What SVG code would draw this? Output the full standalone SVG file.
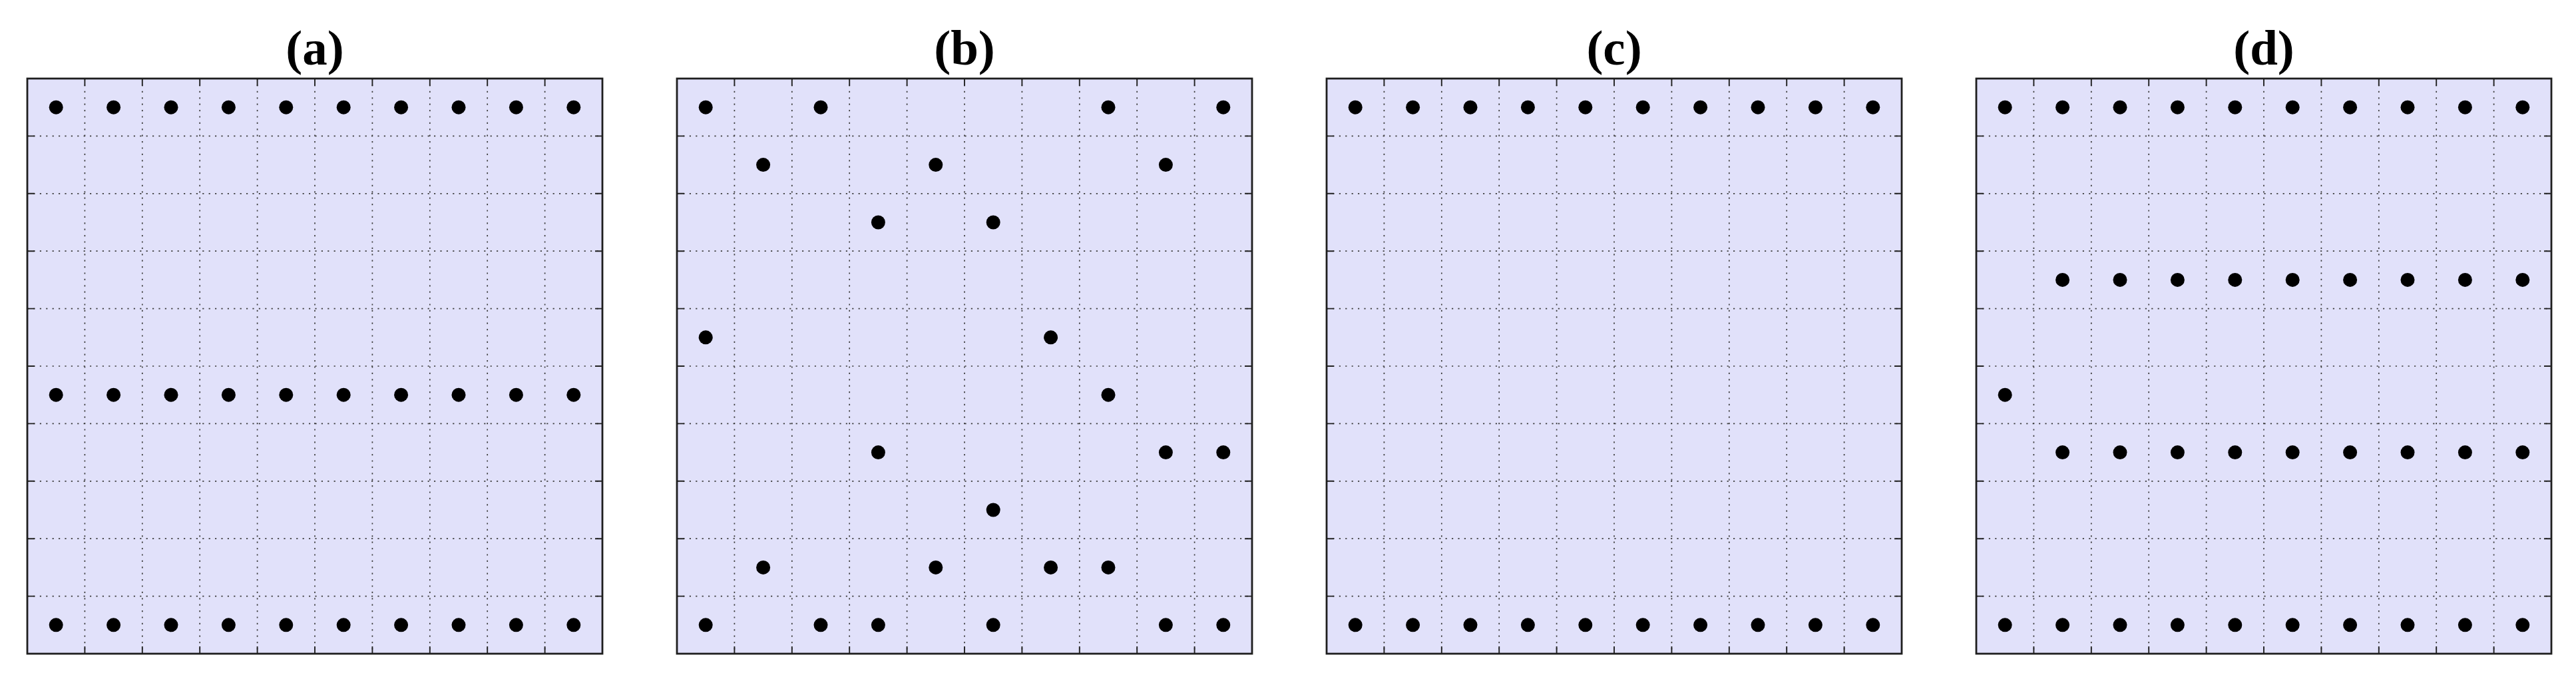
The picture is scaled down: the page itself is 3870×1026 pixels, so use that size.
<svg xmlns="http://www.w3.org/2000/svg" xmlns:xlink="http://www.w3.org/1999/xlink" width="3870" height="1026" viewBox="0 0 3870 1026">
<style>
.bg{fill:#E1E1FA;stroke:none}
.grid{fill:none;stroke:#3c3c3c;stroke-width:1.7;stroke-dasharray:2.2 7.2}
.tick{fill:none;stroke:#222;stroke-width:1.9}
.border{fill:none;stroke:#1e1e1e;stroke-width:2.8}
.dot{fill:#000}
.lbl{font-family:"Liberation Serif","Times New Roman",serif;font-weight:bold;font-size:75px;fill:#000;text-anchor:middle}
</style>
<defs>
<g id="frame">
<rect class="bg" x="0" y="0" width="864" height="864"/>
<path class="grid" d="M86.4 0V864M172.8 0V864M259.2 0V864M345.6 0V864M432 0V864M518.4 0V864M604.8 0V864M691.2 0V864M777.6 0V864M0 86.4H864M0 172.8H864M0 259.2H864M0 345.6H864M0 432H864M0 518.4H864M0 604.8H864M0 691.2H864M0 777.6H864"/>
<path class="tick" d="M86.4 0v11M172.8 0v11M259.2 0v11M345.6 0v11M432 0v11M518.4 0v11M604.8 0v11M691.2 0v11M777.6 0v11M86.4 864v-11M172.8 864v-11M259.2 864v-11M345.6 864v-11M432 864v-11M518.4 864v-11M604.8 864v-11M691.2 864v-11M777.6 864v-11M0 86.4h11M0 172.8h11M0 259.2h11M0 345.6h11M0 432h11M0 518.4h11M0 604.8h11M0 691.2h11M0 777.6h11M864 86.4h-11M864 172.8h-11M864 259.2h-11M864 345.6h-11M864 432h-11M864 518.4h-11M864 604.8h-11M864 691.2h-11M864 777.6h-11"/>
<rect class="border" x="0" y="0" width="864" height="864"/>
</g>
<g id="row">
<circle class="dot" cx="43.2" cy="0" r="10.5"/><circle class="dot" cx="129.6" cy="0" r="10.5"/><circle class="dot" cx="216" cy="0" r="10.5"/><circle class="dot" cx="302.4" cy="0" r="10.5"/><circle class="dot" cx="388.8" cy="0" r="10.5"/><circle class="dot" cx="475.2" cy="0" r="10.5"/><circle class="dot" cx="561.6" cy="0" r="10.5"/><circle class="dot" cx="648" cy="0" r="10.5"/><circle class="dot" cx="734.4" cy="0" r="10.5"/><circle class="dot" cx="820.8" cy="0" r="10.5"/>
</g>
<g id="row9">
<circle class="dot" cx="129.6" cy="0" r="10.5"/><circle class="dot" cx="216" cy="0" r="10.5"/><circle class="dot" cx="302.4" cy="0" r="10.5"/><circle class="dot" cx="388.8" cy="0" r="10.5"/><circle class="dot" cx="475.2" cy="0" r="10.5"/><circle class="dot" cx="561.6" cy="0" r="10.5"/><circle class="dot" cx="648" cy="0" r="10.5"/><circle class="dot" cx="734.4" cy="0" r="10.5"/><circle class="dot" cx="820.8" cy="0" r="10.5"/>
</g>
</defs>
<rect x="0" y="0" width="3870" height="1026" fill="#fff"/>

<g id="panel-a">
<text class="lbl" x="473" y="97">(a)</text>
<g transform="translate(41,118)">
<use xlink:href="#frame"/>
<use xlink:href="#row" y="43.2"/>
<use xlink:href="#row" y="475.2"/>
<use xlink:href="#row" y="820.8"/>
</g>
</g>

<g id="panel-b">
<text class="lbl" x="1449" y="97">(b)</text>
<g transform="translate(1017,118)">
<use xlink:href="#frame"/>
<circle class="dot" cx="43.2" cy="43.2" r="10.5"/><circle class="dot" cx="216" cy="43.2" r="10.5"/><circle class="dot" cx="648" cy="43.2" r="10.5"/><circle class="dot" cx="820.8" cy="43.2" r="10.5"/>
<circle class="dot" cx="129.6" cy="129.6" r="10.5"/><circle class="dot" cx="388.8" cy="129.6" r="10.5"/><circle class="dot" cx="734.4" cy="129.6" r="10.5"/>
<circle class="dot" cx="302.4" cy="216" r="10.5"/><circle class="dot" cx="475.2" cy="216" r="10.5"/>
<circle class="dot" cx="43.2" cy="388.8" r="10.5"/><circle class="dot" cx="561.6" cy="388.8" r="10.5"/>
<circle class="dot" cx="648" cy="475.2" r="10.5"/>
<circle class="dot" cx="302.4" cy="561.6" r="10.5"/><circle class="dot" cx="734.4" cy="561.6" r="10.5"/><circle class="dot" cx="820.8" cy="561.6" r="10.5"/>
<circle class="dot" cx="475.2" cy="648" r="10.5"/>
<circle class="dot" cx="129.6" cy="734.4" r="10.5"/><circle class="dot" cx="388.8" cy="734.4" r="10.5"/><circle class="dot" cx="561.6" cy="734.4" r="10.5"/><circle class="dot" cx="648" cy="734.4" r="10.5"/>
<circle class="dot" cx="43.2" cy="820.8" r="10.5"/><circle class="dot" cx="216" cy="820.8" r="10.5"/><circle class="dot" cx="302.4" cy="820.8" r="10.5"/><circle class="dot" cx="475.2" cy="820.8" r="10.5"/><circle class="dot" cx="734.4" cy="820.8" r="10.5"/><circle class="dot" cx="820.8" cy="820.8" r="10.5"/>
</g>
</g>

<g id="panel-c">
<text class="lbl" x="2425" y="97">(c)</text>
<g transform="translate(1993,118)">
<use xlink:href="#frame"/>
<use xlink:href="#row" y="43.2"/>
<use xlink:href="#row" y="820.8"/>
</g>
</g>

<g id="panel-d">
<text class="lbl" x="3401" y="97">(d)</text>
<g transform="translate(2969,118)">
<use xlink:href="#frame"/>
<use xlink:href="#row" y="43.2"/>
<use xlink:href="#row9" y="302.4"/>
<circle class="dot" cx="43.2" cy="475.2" r="10.5"/>
<use xlink:href="#row9" y="561.6"/>
<use xlink:href="#row" y="820.8"/>
</g>
</g>
</svg>
